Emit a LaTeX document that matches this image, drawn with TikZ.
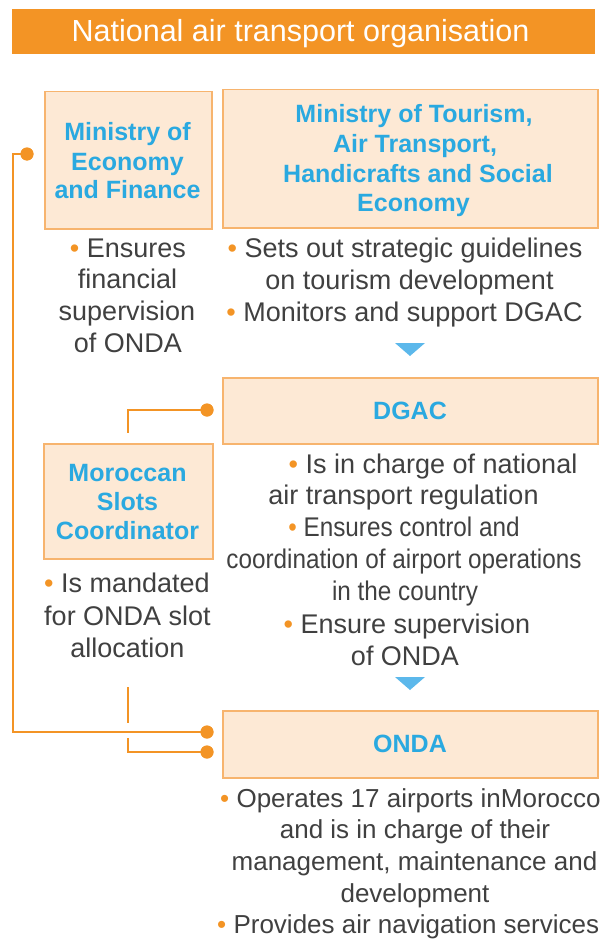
\documentclass[tikz,border=0pt]{standalone}
\usepackage{fontspec}
\setmainfont{Liberation Sans}
\usepackage{graphicx}
\definecolor{barorange}{HTML}{F39425}
\definecolor{boxfill}{HTML}{FDE9D5}
\definecolor{boxline}{HTML}{F7B46E}
\definecolor{headblue}{HTML}{2AA9E0}
\definecolor{bodygray}{HTML}{404040}
\definecolor{triblue}{HTML}{5CB8EB}
\newcommand{\bul}{{\color{barorange}\textbullet}\ }
\newcommand{\tline}[5]{\node[#1] (#2) at (#3,#4) {#5};}
\tikzset{
  orgbox/.style={draw=boxline, fill=boxfill, line width=1.5pt},
  headtxt/.style={anchor=base, inner sep=0pt, text=headblue, font=\fontsize{25}{29}\selectfont\bfseries},
  bodytxt/.style={anchor=base, inner sep=0pt, text=bodygray, font=\fontsize{27}{32}\selectfont},
  ondatxt/.style={bodytxt, font=\fontsize{26}{31}\selectfont},
  ondaleft/.style={ondatxt, anchor=base west},
  conn/.style={draw=barorange, line width=1.5pt},
  dotn/.style={circle, fill=barorange, inner sep=0pt, minimum size=13pt},
  tri/.style={fill=triblue}
}
\begin{document}
\begin{tikzpicture}[x=1pt, y=-1pt]
\useasboundingbox (0,0) rectangle (601,939);
\clip (0,0) rectangle (601,939);
% title
\node[fill=barorange, minimum width=583pt, minimum height=45pt, inner sep=0pt, anchor=north west] (title) at (12,9) {};
\node[anchor=base, inner sep=0pt, text=white, font=\fontsize{30.5}{34}\selectfont] (titletxt) at (300.5,42) {National air transport organisation};
% boxes
\node[orgbox, anchor=north west, minimum width=167pt, minimum height=137pt, inner sep=0pt] (mef) at (44,91) {};
\node[orgbox, anchor=north west, minimum width=375pt, minimum height=138pt, inner sep=0pt] (mot) at (222,89) {};
\node[orgbox, anchor=north west, minimum width=375pt, minimum height=66pt, inner sep=0pt] (dgac) at (222,377) {};
\node[orgbox, anchor=north west, minimum width=169pt, minimum height=115pt, inner sep=0pt] (msc) at (43,443) {};
\node[orgbox, anchor=north west, minimum width=375pt, minimum height=67pt, inner sep=0pt] (onda) at (222,710) {};
% headers
\tline{headtxt}{mefa}{127.5}{140}{Ministry of}
\tline{headtxt}{mefb}{127.5}{170}{Economy}
\tline{headtxt}{mefc}{127.5}{198}{and Finance}
\tline{headtxt}{mota}{414}{123}{Ministry of Tourism,}
\tline{headtxt}{motb}{415}{153}{Air Transport,}
\tline{headtxt}{motc}{418}{182}{Handicrafts and Social}
\tline{headtxt}{motd}{413.5}{211}{Economy}
\tline{headtxt}{dgach}{410}{419}{DGAC}
\tline{headtxt}{msca}{127.5}{481}{Moroccan}
\tline{headtxt}{mscb}{127.5}{510}{Slots}
\tline{headtxt}{mscc}{127.5}{539}{Coordinator}
\tline{headtxt}{ondah}{410}{752}{ONDA}
% MEF body
\tline{bodytxt}{mef1}{128}{257}{\bul Ensures}
\tline{bodytxt}{mef2}{127.5}{288}{financial}
\tline{bodytxt}{mef3}{127}{320}{supervision}
\tline{bodytxt}{mef4}{128}{352}{of ONDA}
% MoT body
\tline{bodytxt}{mot1}{405}{257}{\bul Sets out strategic guidelines}
\tline{bodytxt}{mot2}{409.5}{289}{on tourism development}
\tline{bodytxt}{mot3}{404.5}{321}{\bul Monitors and support DGAC}
% DGAC body
\tline{bodytxt}{dg1}{433}{473}{\bul Is in charge of national}
\tline{bodytxt}{dg2}{403.5}{504}{air transport regulation}
\tline{bodytxt}{dg3}{404}{536}{\scalebox{0.9}[1]{\bul Ensures control and}}
\tline{bodytxt}{dg4}{404}{568}{\scalebox{0.9}[1]{coordination of airport operations}}
\tline{bodytxt}{dg5}{405}{600}{\scalebox{0.9}[1]{in the country}}
\tline{bodytxt}{dg6}{407}{633}{\bul Ensure supervision}
\tline{bodytxt}{dg7}{405}{665}{of ONDA}
% MSC body
\tline{bodytxt}{msc1}{127}{592}{\bul Is mandated}
\tline{bodytxt}{msc2}{127.5}{625}{for ONDA slot}
\tline{bodytxt}{msc3}{127.5}{657}{allocation}
% ONDA body
\tline{ondaleft}{on1}{220}{807}{\bul Operates 17 airports inMorocco}
\tline{ondatxt}{on2}{415}{838}{and is in charge of their}
\tline{ondatxt}{on3}{414.5}{870}{management, maintenance and}
\tline{ondatxt}{on4}{415}{902}{development}
\tline{ondaleft}{on5}{217}{933}{\bul Provides air navigation services}
% triangles
\coordinate (t1a) at (395,343); \coordinate (t1b) at (425,343); \coordinate (t1c) at (410,356);
\fill[tri] (t1a) -- (t1b) -- (t1c) -- cycle;
\coordinate (t2a) at (395,677); \coordinate (t2b) at (425,677); \coordinate (t2c) at (410,690);
\fill[tri] (t2a) -- (t2b) -- (t2c) -- cycle;
% connectors
\coordinate (l1a) at (13,154);
\coordinate (l1b) at (13,732);
\coordinate (l2a) at (128,410);
\coordinate (l2b) at (128,433);
\coordinate (l3a) at (128,687);
\coordinate (l3b) at (128,723);
\coordinate (l4a) at (128,738);
\coordinate (l4b) at (128,752);
\node[dotn] (d1) at (27,154) {};
\node[dotn] (d2) at (207,732) {};
\node[dotn] (d3) at (207,410) {};
\node[dotn] (d4) at (207,752) {};
\draw[conn] (d1.center) -- (l1a) -- (l1b) -- (d2.center);
\draw[conn] (d3.center) -- (l2a) -- (l2b);
\draw[conn] (l3a) -- (l3b);
\draw[conn] (l4a) -- (l4b) -- (d4.center);
\node[dotn] (d1b) at (d1) {};
\node[dotn] (d2b) at (d2) {};
\node[dotn] (d3b) at (d3) {};
\node[dotn] (d4b) at (d4) {};
\end{tikzpicture}
\end{document}
